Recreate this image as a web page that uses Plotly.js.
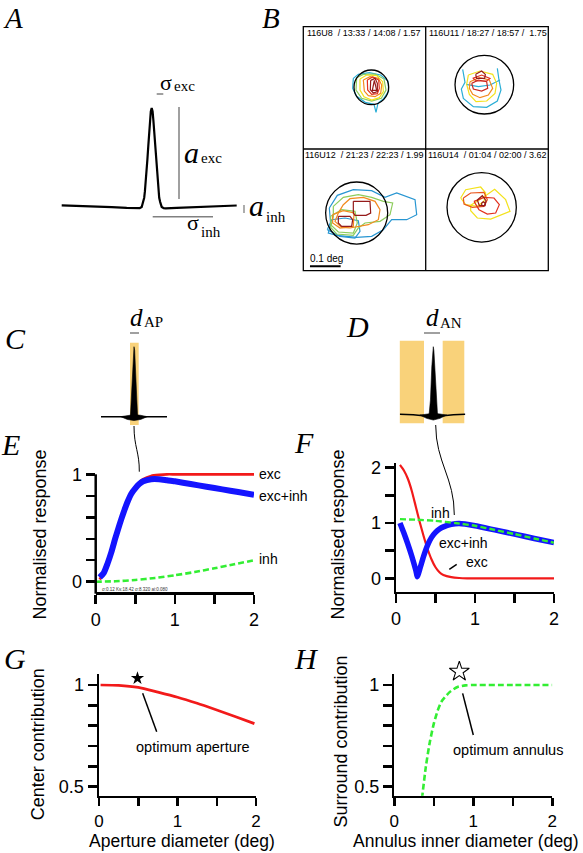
<!DOCTYPE html>
<html><head><meta charset="utf-8">
<script src="https://cdn.plot.ly/plotly-3.0.1.min.js"></script>
<style>html,body{margin:0;padding:0;background:#fff}</style>
</head><body><div id="chart" style="width:583px;height:853px"></div>
<script>
// ---------------- DATA ----------------
// Panel A: difference-of-Gaussians profile (schematic units)
const aX = [-0.9,-0.6,-0.4,-0.25,-0.14,-0.12,-0.1,-0.085,-0.075,-0.068,-0.06,-0.051,-0.043,-0.034,-0.026,-0.017,-0.009,0,0.009,0.017,0.026,0.034,0.043,0.051,0.06,0.068,0.075,0.085,0.1,0.12,0.14,0.25,0.4,0.6,0.85];
const aY = [-0.004,-0.012,-0.022,-0.03,-0.035,-0.033,-0.02,0.03,0.075,0.14,0.23,0.34,0.47,0.61,0.75,0.87,0.965,1.0,0.965,0.87,0.75,0.61,0.47,0.34,0.23,0.14,0.075,0.03,-0.02,-0.033,-0.035,-0.03,-0.022,-0.012,-0.005];

// Panel C / D: stimulus schematics
const cSpikeX = [-0.11,-0.086,-0.05,-0.02,0,0.02,0.05,0.086,0.11];
const cSpikeY = [0,0.24,0.71,0.95,1,0.95,0.71,0.24,0];
const cBaseX = [-1,-0.6,-0.3,0,0.3,0.6,1];
const cBaseY = [0,0,-0.005,-0.01,-0.005,0,0];
const cLensX = [-0.4,-0.2,0,0.2,0.4,0.2,0,-0.2,-0.4];
const cLensY = [0,0.02,0.03,0.02,0,-0.04,-0.055,-0.04,0];
const dSpikeX = [-0.125,-0.085,-0.045,-0.018,0,0.018,0.045,0.085,0.125];
const dSpikeY = [0,0.21,0.7,0.94,1,0.94,0.7,0.21,0];
const dBaseX = [-1,-0.6,-0.3,0,0.3,0.6,0.95];
const dBaseY = [0,-0.006,-0.022,-0.044,-0.022,-0.006,0];
const dLensX = [-0.4,-0.2,0,0.2,0.4,0.2,0,-0.2,-0.4];
const dLensY = [-0.01,0.005,0.015,0.005,-0.01,-0.06,-0.085,-0.06,-0.01];

// Panel B: receptive-field contours (units: 1/960 deg, per quadrant frame)
const b1Cyan = [[160,160],[175,148],[208,143],[242,150],[264,168],[266,198],[250,222],[234,234],[228,262],[222,238],[196,232],[170,214],[158,190],[160,160]];
const b1Green = [[170,158],[190,148],[225,147],[252,162],[258,195],[244,220],[215,228],[185,220],[168,195],[170,158]];
const b1Yellow = [[180,162],[200,150],[230,152],[248,170],[250,200],[238,218],[215,225],[192,215],[180,195],[180,162]];
const b1Orange = [[190,165],[210,155],[235,160],[245,180],[242,205],[225,215],[205,212],[193,198],[190,165]];
const b1Red = [[202,165],[218,156],[236,165],[238,190],[232,206],[215,208],[203,195],[202,165]];
const b1DarkRed = [[212,166],[225,160],[232,175],[232,200],[220,204],[211,194],[212,166]];
const b1Inner = [[223,166],[217,196],[230,196],[223,166]];
const b2Cyan = [[488,133],[495,172],[484,192],[490,220],[520,245],[560,247],[592,228],[603,195],[597,165],[592,130]];
const b2CyanB = [[498,178],[535,185],[570,180],[600,165]];
const b2Yellow = [[505,150],[540,138],[578,148],[590,175],[585,205],[560,228],[528,230],[508,208],[500,178],[505,150]];
const b2Orange = [[510,170],[538,158],[568,165],[578,190],[565,210],[540,218],[518,208],[508,190],[510,170]];
const b2Red2 = [[518,160],[545,150],[570,160],[560,168],[530,168],[518,160]];
const b2Red = [[515,175],[535,165],[560,170],[563,190],[545,198],[520,192],[515,175]];
const b2DarkRed = [[527,148],[545,138],[556,148],[554,160],[530,160],[527,148]];
const b3Blue = [[88,180],[112,142],[160,125],[215,128],[255,148],[290,135],[345,155],[350,200],[320,215],[275,215],[250,245],[215,265],[170,268],[110,262],[85,255],[92,228],[88,180]];
const b3Blue2 = [[82,245],[95,215],[135,210],[175,218],[180,250],[165,270],[120,265],[82,245]];
const b3Green = [[100,175],[130,148],[175,140],[215,148],[250,160],[278,165],[270,200],[240,220],[195,225],[175,240],[160,262],[110,258],[92,238],[100,205],[100,175]];
const b3Green2 = [[92,205],[125,185],[165,190],[172,225],[160,255],[115,252],[92,230],[92,205]];
const b3Orange = [[130,170],[150,152],[190,148],[225,160],[240,185],[235,215],[205,230],[175,235],[150,240],[125,238],[105,220],[115,195],[130,170]];
const b3Orange2 = [[98,200],[130,188],[162,195],[160,235],[120,240],[98,225],[98,200]];
const b3DarkRed = [[160,160],[210,160],[212,195],[198,202],[165,202],[160,195],[160,160]];
const b3DarkRed2 = [[115,205],[150,205],[158,215],[155,235],[125,235],[115,225],[115,205]];
const b4Yellow = [[110,150],[125,125],[170,117],[185,135],[180,160],[160,175],[125,170],[110,150]];
const b4Yellow2 = [[140,172],[175,150],[212,124],[245,155],[258,190],[232,200],[200,213],[160,210],[140,188],[140,172]];
const b4Orange = [[118,150],[140,135],[180,133],[190,155],[180,175],[145,178],[120,168],[118,150]];
const b4Red = [[150,160],[180,148],[210,150],[226,170],[215,195],[190,198],[165,185],[150,160]];
const b4DarkRed = [[160,156],[175,143],[186,158],[183,173],[166,173],[160,156]];
const b4Tiny = [[173,165],[178,161],[183,165],[183,171],[178,174],[173,171],[173,165]];
const bCircles = [[214,187,52],[553,179,88],[170,195,93],[173,178,104]];
const bLabels = ['116U8  / 13:33 / 14:08 / 1.57','116U11 / 18:27 / 18:57 /  1.75','116U12  / 21:23 / 22:23 / 1.99','116U14  / 01:04 / 02:00 / 3.62'];

// Panel E: aperture response
const eX = [0.05,0.1,0.15,0.2,0.25,0.3,0.35,0.4,0.45,0.5,0.55,0.6,0.7,0.8,0.9,1.0,1.2,1.4,1.6,1.8,2.0];
const eExc = [0.02,0.08,0.18,0.29,0.42,0.54,0.65,0.75,0.83,0.885,0.925,0.955,0.985,0.995,1.0,1.0,1.0,1.0,1.0,1.0,1.0];
const eExcInh = [0.04,0.08,0.17,0.28,0.41,0.53,0.64,0.74,0.82,0.87,0.91,0.935,0.955,0.955,0.945,0.935,0.91,0.885,0.86,0.835,0.81];
const eInhX = [0.0,0.25,0.5,0.75,1.0,1.25,1.5,1.75,2.0];
const eInh = [0.0,0.004,0.016,0.035,0.06,0.09,0.125,0.162,0.2];

// Panel F: annulus response
const fExcX = [0.05,0.1,0.15,0.2,0.25,0.3,0.35,0.4,0.45,0.5,0.55,0.6,0.7,0.8,0.9,1.0,1.5,2.0];
const fExc = [2.05,1.95,1.8,1.58,1.3,1.02,0.76,0.53,0.34,0.2,0.11,0.06,0.02,0.005,0,0,0,0];
const fInhX = [0.05,0.25,0.5,0.75,1.0,1.25,1.5,1.75,2.0];
const fInh = [1.07,1.06,1.04,1.0,0.95,0.875,0.8,0.72,0.645];
const fExcInhX = [0.05,0.1,0.15,0.2,0.25,0.27,0.3,0.35,0.4,0.45,0.5,0.55,0.6,0.7,0.8,1.0,1.25,1.5,1.75,2.0];
const fExcInh = [1.0,0.82,0.62,0.4,0.15,0.03,0.16,0.4,0.6,0.74,0.83,0.89,0.93,0.975,0.99,0.95,0.875,0.8,0.72,0.645];

// Panel G / H
const gX = [0.02,0.25,0.5,0.75,1.0,1.25,1.5,1.75,1.98];
const gY = [1.0,0.998,0.988,0.965,0.94,0.91,0.877,0.843,0.81];
const gStar = [0.49, 1.033];
const hX = [0.35,0.4,0.45,0.5,0.55,0.6,0.7,0.8,0.9,1.0,1.5,2.0];
const hY = [0.44,0.6,0.72,0.81,0.875,0.92,0.965,0.99,0.998,1.0,1.0,1.0];
const hStar = [0.823, 1.066];

const xTicks = [0,0.5,1,1.5,2], xTickText = ['0','','1','','2'];
const eYTicks = [0,0.2,0.4,0.6,0.8,1], eYText = ['0','','','','','1'];
const fYTicks = [0,0.5,1,1.5,2], fYText = ['0','','1','','2'];
const gYTicks = [0.5,0.6,0.7,0.8,0.9,1], gYText = ['0.5','','','','','1'];

// ---------------- LAYOUT HELPERS ----------------
const W = 583, H = 853;
const px = v => v / W;
const py = v => 1 - v / H;
const dX = (a, b) => [px(a), px(b)];
const dY = (top, bot) => [py(bot), py(top)];
const SANS = 'Liberation Sans, Arial, Helvetica, sans-serif';
const SERIF = 'Liberation Serif, Times New Roman, serif';
const RED = '#f21a1a', BLUE = '#1414ff', GREEN = '#33ee33';
const YEL = '#f9d27a';

const traces = [];
function ln(ax, x, y, color, width, extra) {
  const t = {x, y, xaxis: 'x' + ax, yaxis: 'y' + ax, mode: 'lines', hoverinfo: 'skip',
    line: Object.assign({color, width}, extra || {})};
  traces.push(t); return t;
}
function poly(ax, x, y, color) {
  traces.push({x, y, xaxis: 'x' + ax, yaxis: 'y' + ax, mode: 'lines', fill: 'toself',
    fillcolor: color, line: {color, width: 0.6}, hoverinfo: 'skip'});
}
function hidden(dom, rng, anchor) {
  return {domain: dom, range: rng, visible: false, fixedrange: true, anchor};
}
const axStyle = {showline: true, linewidth: 2.5, linecolor: '#000', ticks: 'outside', ticklen: 9,
  tickwidth: 2.5, tickcolor: '#000', showgrid: false, zeroline: false, fixedrange: true,
  tickfont: {size: 18, family: SANS, color: '#000'}};
function ax(o) { return Object.assign({}, axStyle, o); }

// ---------------- TRACES ----------------
// A  (axis '' -> x/y)
traces.push({x: aX, y: aY, mode: 'lines', line: {color: '#000', width: 2.2}, hoverinfo: 'skip'});
// C (axis 6)
ln(6, cBaseX, cBaseY, '#000', 1.4);
poly(6, cLensX, cLensY, '#000');
poly(6, cSpikeX, cSpikeY, '#000');
// D (axis 7)
ln(7, dBaseX, dBaseY, '#000', 1.4);
poly(7, dLensX, dLensY, '#000');
poly(7, dSpikeX, dSpikeY, '#000');
// B quadrants (axes 2..5)
const CY = '#2aaed6', GR = '#8dcc5c', YE = '#f3e21c', OR = '#f28a1e', RD = '#e2321f', DR = '#951a1a', BL = '#2896d2';
const bSets = [
  [2, [[b1Cyan, CY], [b1Green, GR], [b1Yellow, YE], [b1Orange, OR], [b1Red, RD], [b1DarkRed, DR], [b1Inner, DR]]],
  [3, [[b2Cyan, CY], [b2CyanB, CY], [b2Yellow, YE], [b2Orange, OR], [b2Red2, RD], [b2Red, '#c8281e'], [b2DarkRed, DR]]],
  [4, [[b3Blue, BL], [b3Blue2, BL], [b3Green, GR], [b3Green2, GR], [b3Orange, OR], [b3Orange2, OR], [b3DarkRed, DR], [b3DarkRed2, DR]]],
  [5, [[b4Yellow, YE], [b4Yellow2, YE], [b4Orange, '#ea561d'], [b4Red, RD], [b4DarkRed, DR], [b4Tiny, DR]]]
];
bSets.forEach(([a, list]) => list.forEach(([pts, c]) => ln(a, pts.map(p => p[0]), pts.map(p => p[1]), c, 1.2)));

// E (axis 8)
ln(8, eX, eExc, RED, 2.6, {shape: 'spline', smoothing: 0.6});
ln(8, eX, eExcInh, BLUE, 6, {shape: 'spline', smoothing: 0.6});
ln(8, eInhX, eInh, GREEN, 2.6, {shape: 'spline', smoothing: 0.6, dash: '6px,3px'});
// F (axis 9)
ln(9, fExcX, fExc, RED, 2.2, {shape: 'spline', smoothing: 0.6});
ln(9, fExcInhX, fExcInh, BLUE, 5.5, {shape: 'spline', smoothing: 0.4});
ln(9, fInhX, fInh, GREEN, 2.4, {shape: 'spline', smoothing: 0.6, dash: '6px,3px'});
// G (axis 10), star on taller overlay axis 12
ln(10, gX, gY, RED, 2.7, {shape: 'spline', smoothing: 0.6});
traces.push({x: [gStar[0]], y: [gStar[1]], xaxis: 'x12', yaxis: 'y12', mode: 'markers',
  marker: {symbol: 'star', size: 10, color: '#000'}, hoverinfo: 'skip'});
// H (axis 11), star on taller overlay axis 13
ln(11, hX, hY, GREEN, 2.6, {shape: 'spline', smoothing: 0.6, dash: '6px,3px'});
traces.push({x: [hStar[0]], y: [hStar[1]], xaxis: 'x13', yaxis: 'y13', mode: 'markers',
  marker: {symbol: 'star-open', size: 15, color: '#000', line: {width: 1.1, color: '#000'}}, hoverinfo: 'skip'});

// ---------------- SHAPES ----------------
const GRAY = '#808080';
const shapes = [
  // A markers of parameters
  {type: 'line', xref: 'x', yref: 'y', x0: 0.273, x1: 0.273, y0: 1.01, y1: 0.062, line: {color: GRAY, width: 1.5}},
  {type: 'line', xref: 'x', yref: 'y', x0: 0.01, x1: 0.613, y0: -0.12, y1: -0.12, line: {color: GRAY, width: 1.5}},
  {type: 'line', xref: 'x', yref: 'y', x0: 0.05, x1: 0.116, y0: 1.144, y1: 1.144, line: {color: GRAY, width: 1.5}},
  {type: 'line', xref: 'x', yref: 'y', x0: 0.923, x1: 0.923, y0: 0, y1: -0.082, line: {color: GRAY, width: 1.3}},
  // C / D aperture and annulus
  {type: 'rect', xref: 'x6', yref: 'y6', x0: -0.121, x1: 0.142, y0: -0.119, y1: 1.057, fillcolor: YEL, line: {width: 0}, layer: 'below'},
  {type: 'rect', xref: 'x7', yref: 'y7', x0: -1.063, x1: -0.278, y0: -0.133, y1: 1.089, fillcolor: YEL, line: {width: 0}, layer: 'below'},
  {type: 'rect', xref: 'x7', yref: 'y7', x0: 0.28, x1: 0.925, y0: -0.133, y1: 1.089, fillcolor: YEL, line: {width: 0}, layer: 'below'},
  // d markers
  {type: 'line', xref: 'paper', yref: 'paper', x0: px(130), x1: px(139), y0: py(333), y1: py(333), line: {color: GRAY, width: 1.5}},
  {type: 'line', xref: 'paper', yref: 'paper', x0: px(424), x1: px(440), y0: py(333), y1: py(333), line: {color: GRAY, width: 1.5}},
  // connectors
  {type: 'path', xref: 'paper', yref: 'paper', line: {color: '#000', width: 1},
    path: `M ${px(134)},${py(426)} C ${px(134)},${py(447)} ${px(139.5)},${py(452)} ${px(139.3)},${py(471.7)}`},
  {type: 'path', xref: 'paper', yref: 'paper', line: {color: '#000', width: 1},
    path: `M ${px(435.7)},${py(425)} C ${px(435.7)},${py(462)} ${px(454.5)},${py(478)} ${px(454.3)},${py(515)}`},
  // F pointer
  {type: 'line', xref: 'paper', yref: 'paper', x0: px(449.3), x1: px(456.7), y0: py(569.3), y1: py(564.3), line: {color: '#000', width: 1.5}},
  // E y axis line (drawn so that the curve at 1 is not clipped)
  {type: 'line', xref: 'paper', yref: 'paper', x0: px(95.7), x1: px(95.7), y0: py(593.7), y1: py(474.3), line: {color: '#000', width: 2.5}},
  // G / H pointer lines
  {type: 'line', xref: 'x10', yref: 'y10', x0: 0.556, y0: 0.959, x1: 0.735, y1: 0.77, line: {color: '#000', width: 1.5}},
  {type: 'line', xref: 'x11', yref: 'y11', x0: 0.865, y0: 0.959, x1: 1.0, y1: 0.754, line: {color: '#000', width: 1.5}},
  // B frame
  {type: 'rect', xref: 'paper', yref: 'paper', x0: px(303.3), x1: px(548.3), y0: py(270.7), y1: py(26.7), line: {color: '#000', width: 1.3}},
  {type: 'line', xref: 'paper', yref: 'paper', x0: px(425.7), x1: px(425.7), y0: py(270.7), y1: py(26.7), line: {color: '#000', width: 1.3}},
  {type: 'line', xref: 'paper', yref: 'paper', x0: px(303.3), x1: px(548.3), y0: py(149), y1: py(149), line: {color: '#000', width: 1.3}},
  // scale bar 0.1 deg
  {type: 'line', xref: 'x4', yref: 'y4', x0: 30, x1: 122, y0: 355, y1: 355, line: {color: '#000', width: 2}}
];
bCircles.forEach((c, i) => shapes.push({type: 'circle', xref: 'x' + (i + 2), yref: 'y' + (i + 2),
  x0: c[0] - c[2], x1: c[0] + c[2], y0: c[1] - c[2], y1: c[1] + c[2], line: {color: '#000', width: 1.3}}));

// ---------------- ANNOTATIONS ----------------
const ann = [];
function T(x, y, text, size, o) {
  o = o || {};
  ann.push({xref: 'paper', yref: 'paper', x: px(x), y: py(y), text, showarrow: false,
    xanchor: o.xa || 'left', yanchor: o.ya || 'middle', textangle: o.rot || 0, borderpad: 0,
    font: {family: o.fam || SANS, size, color: o.color || '#000'}});
}
// panel letters
T(13, 0.5, '<i>A</i>', 29, {fam: SERIF, xa: 'center', ya: 'top'});
T(271, 0.5, '<i>B</i>', 29, {fam: SERIF, xa: 'center', ya: 'top'});
[['C', 15, 338], ['D', 357, 326], ['E', 10.5, 444], ['F', 304.5, 442], ['G', 14.5, 658], ['H', 306, 658]]
  .forEach(([l, x, y]) => T(x, y, '<i>' + l + '</i>', 30, {fam: SERIF, xa: 'center'}));
// A labels
T(159, 82.6, 'σ', 22, {fam: SERIF});
T(173, 86, 'exc', 15, {fam: SERIF});
T(183, 152, '<i>a</i>', 30, {fam: SERIF});
T(200, 158, 'exc', 15, {fam: SERIF});
T(248, 205, '<i>a</i>', 30, {fam: SERIF});
T(265, 216.7, 'inh', 15, {fam: SERIF});
T(186, 222.6, 'σ', 22, {fam: SERIF});
T(200, 232, 'inh', 15, {fam: SERIF});
// C / D labels
T(129, 317.6, '<i>d</i>', 25, {fam: SERIF});
T(143, 322, 'AP', 15, {fam: SERIF});
T(425, 317.6, '<i>d</i>', 25, {fam: SERIF});
T(439, 323, 'AN', 15, {fam: SERIF});
// B labels
T(305.5, 33.3, bLabels[0], 9);
T(428, 33.3, bLabels[1], 9);
T(303.8, 154.7, bLabels[2], 9);
T(426.5, 154.7, bLabels[3], 9);
T(326.7, 258.8, '0.1 deg', 10, {xa: 'center'});
// E labels
T(258, 473.5, 'exc', 14);
T(258, 496, 'exc+inh', 14);
T(258, 559, 'inh', 14);
T(101, 589, 'σ:0.12 Ks:18.42 σ:8.320 ai:0.080', 4.5, {color: '#333'});
T(39.5, 535, 'Normalised response', 18, {xa: 'center', rot: -90});
// F labels
T(430, 513.3, 'inh', 14);
T(438.3, 543, 'exc+inh', 14);
T(465, 562, 'exc', 14);
T(337.5, 535, 'Normalised response', 18, {xa: 'center', rot: -90});
// G / H labels
T(192.5, 747, 'optimum aperture', 14.5, {xa: 'center'});
T(507.8, 750, 'optimum annulus', 14.5, {xa: 'center'});
T(38.3, 744, 'Center contribution', 18, {xa: 'center', rot: -90});
T(340, 741.5, 'Surround contribution', 18, {xa: 'center', rot: -90});
T(181.7, 841, 'Aperture diameter (deg)', 17.5, {xa: 'center'});
T(466, 841, 'Annulus inner diameter (deg)', 17.5, {xa: 'center'});

// ---------------- LAYOUT ----------------
const ghXTick = {size: 17, family: SANS, color: '#000'};
const layout = {
  width: W, height: H, margin: {l: 0, r: 0, t: 0, b: 0}, showlegend: false,
  paper_bgcolor: '#fff', plot_bgcolor: 'rgba(0,0,0,0)', font: {family: SANS, color: '#000'},
  xaxis: hidden(dX(51.7, 251.7), [-1, 1], 'y'),
  yaxis: hidden(dY(90, 230), [-0.2577, 1.1856], 'x'),
  xaxis2: hidden(dX(303.3, 425.7), [10, 377], 'y2'),
  yaxis2: hidden(dY(26.7, 149), [372, 5], 'x2'),
  xaxis3: hidden(dX(425.7, 548.3), [377, 745], 'y3'),
  yaxis3: hidden(dY(26.7, 149), [372, 5], 'x3'),
  xaxis4: hidden(dX(303.3, 425.7), [10, 377], 'y4'),
  yaxis4: hidden(dY(149, 270.7), [368, 3], 'x4'),
  xaxis5: hidden(dX(425.7, 548.3), [5, 373], 'y5'),
  yaxis5: hidden(dY(149, 270.7), [368, 3], 'x5'),
  xaxis6: hidden(dX(101, 167), [-1, 1], 'y6'),
  yaxis6: hidden(dY(336, 432), [-0.219, 1.153], 'x6'),
  xaxis7: hidden(dX(399.8, 466.8), [-1, 1], 'y7'),
  yaxis7: hidden(dY(335, 430), [-0.232, 1.173], 'x7'),
  xaxis8: ax({domain: dX(95.7, 254), range: [0, 2], anchor: 'y8', tickvals: xTicks, ticktext: xTickText}),
  yaxis8: ax({domain: dY(467.9, 592.44), range: [-0.1, 1.06], anchor: 'x8', showline: false, tickvals: eYTicks, ticktext: eYText}),
  xaxis9: ax({domain: dX(396, 554), range: [0, 2], anchor: 'y9', tickvals: xTicks, ticktext: xTickText}),
  yaxis9: ax({domain: dY(463.3, 591.57), range: [-0.24, 2.08], anchor: 'x9', tickvals: fYTicks, ticktext: fYText}),
  xaxis10: ax({domain: dX(99, 256), range: [0, 2], anchor: 'y10', ticklen: 8, tickvals: xTicks, ticktext: xTickText, tickfont: ghXTick}),
  yaxis10: ax({domain: dY(674, 795.65), range: [0.456, 1.054], anchor: 'x10', tickvals: gYTicks, ticktext: gYText}),
  xaxis11: ax({domain: dX(394.3, 552.3), range: [0, 2], anchor: 'y11', ticklen: 8, tickvals: xTicks, ticktext: xTickText, tickfont: ghXTick}),
  yaxis11: ax({domain: dY(674, 795.65), range: [0.456, 1.054], anchor: 'x11', tickvals: gYTicks, ticktext: gYText}),
  // taller overlays with identical scale, for the stars above the axes
  xaxis12: hidden(dX(99, 256), [0, 2], 'y12'),
  yaxis12: hidden(dY(650, 795.65), [0.456, 1.054 + 24 / 203.4], 'x12'),
  xaxis13: hidden(dX(394.3, 552.3), [0, 2], 'y13'),
  yaxis13: hidden(dY(650, 795.65), [0.456, 1.054 + 24 / 203.4], 'x13'),
  shapes, annotations: ann
};

Plotly.newPlot('chart', traces, layout, {staticPlot: true, displayModeBar: false});
</script></body></html>
